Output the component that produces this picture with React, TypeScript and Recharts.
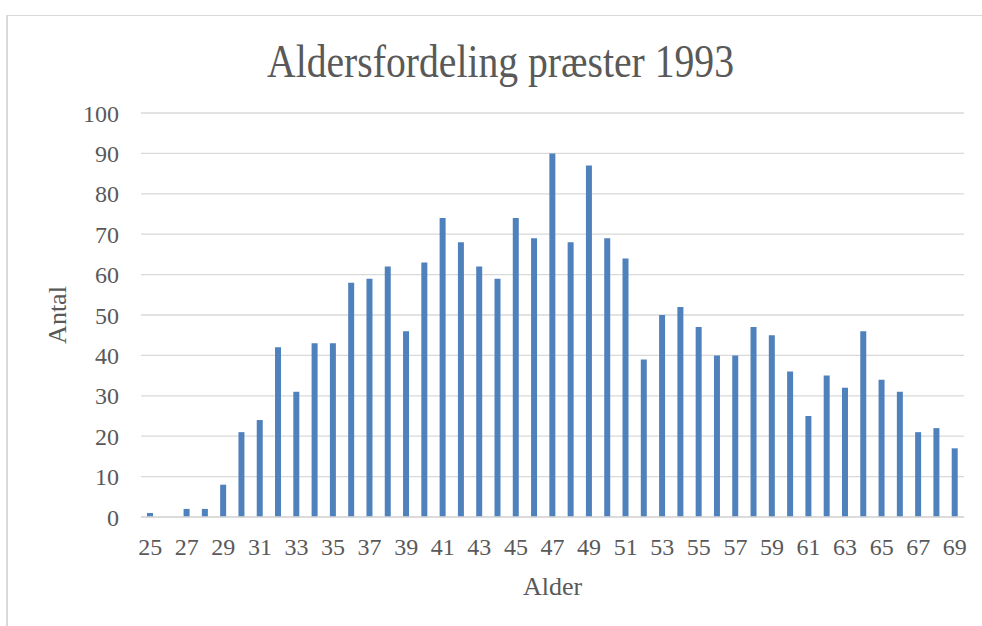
import { BarChart, Bar, XAxis, YAxis, CartesianGrid } from 'recharts';

// Age distribution of priests, 1993
const ages = [
  25, 26, 27, 28, 29, 30, 31, 32, 33, 34, 35, 36, 37, 38, 39, 40, 41, 42, 43, 44, 45, 46, 47,
  48, 49, 50, 51, 52, 53, 54, 55, 56, 57, 58, 59, 60, 61, 62, 63, 64, 65, 66, 67, 68, 69,
];
const counts = [
  1, 0, 2, 2, 8, 21, 24, 42, 31, 43, 43, 58, 59, 62, 46, 63, 74, 68, 62, 59, 74, 69, 90,
  68, 87, 69, 64, 39, 50, 52, 47, 40, 40, 47, 45, 36, 25, 35, 32, 46, 34, 31, 21, 22, 17,
];
const yTicks = [0, 10, 20, 30, 40, 50, 60, 70, 80, 90, 100];

const data = ages.map((age, i) => ({ age: String(age), count: counts[i] }));

const FONT = '"Liberation Serif", "DejaVu Serif", serif';
const TEXT = '#595959';
const GRID = '#d9d9d9';

export default function App() {
  return (
    <div
      style={{
        position: 'absolute',
        top: 0,
        left: 0,
        width: 982,
        height: 626,
        overflow: 'hidden',
        background: '#fff',
        fontFamily: FONT,
      }}
    >
      {/* chart frame */}
      <div
        style={{
          position: 'absolute',
          left: 6,
          top: 15,
          width: 2000,
          height: 2000,
          borderLeft: `2px solid ${GRID}`,
          borderTop: `1px solid ${GRID}`,
        }}
      />
      <svg width={982} height={120} style={{ position: 'absolute', left: 0, top: 0 }}>
        <text
          x={267}
          y={77}
          fontSize={46}
          fill={TEXT}
          fontFamily={FONT}
          textLength={467}
          lengthAdjust="spacingAndGlyphs"
        >
          Aldersfordeling præster 1993
        </text>
      </svg>
      <div style={{ position: 'absolute', left: 0, top: 0 }}>
        <BarChart
          width={982}
          height={626}
          data={data}
          margin={{ top: 113, right: 18, bottom: 0, left: 0 }}
          barSize={6}
        >
          <CartesianGrid vertical={false} stroke={GRID} strokeWidth={1.3} />
          <XAxis
            dataKey="age"
            interval={1}
            height={109}
            tickLine={false}
            tickMargin={15}
            axisLine={{ stroke: GRID, strokeWidth: 1.3 }}
            tick={{ fill: TEXT, fontSize: 24, fontFamily: FONT }}
            label={{
              content: ({ viewBox }: any) => (
                <text
                  x={viewBox.x + viewBox.width / 2}
                  y={viewBox.y + 78}
                  textAnchor="middle"
                  fontSize={26}
                  fill={TEXT}
                  fontFamily={FONT}
                >
                  Alder
                </text>
              ),
            }}
          />
          <YAxis
            width={141}
            domain={[0, 100]}
            ticks={yTicks}
            axisLine={false}
            tickLine={false}
            tickMargin={16}
            tick={{ fill: TEXT, fontSize: 24, fontFamily: FONT }}
            label={{
              content: () => (
                <text
                  x={66}
                  y={315}
                  textAnchor="middle"
                  fontSize={26}
                  fill={TEXT}
                  fontFamily={FONT}
                  transform="rotate(-90, 66, 315)"
                >
                  Antal
                </text>
              ),
            }}
          />
          <Bar dataKey="count" fill="#4f81bd" isAnimationActive={false} />
        </BarChart>
      </div>
    </div>
  );
}
